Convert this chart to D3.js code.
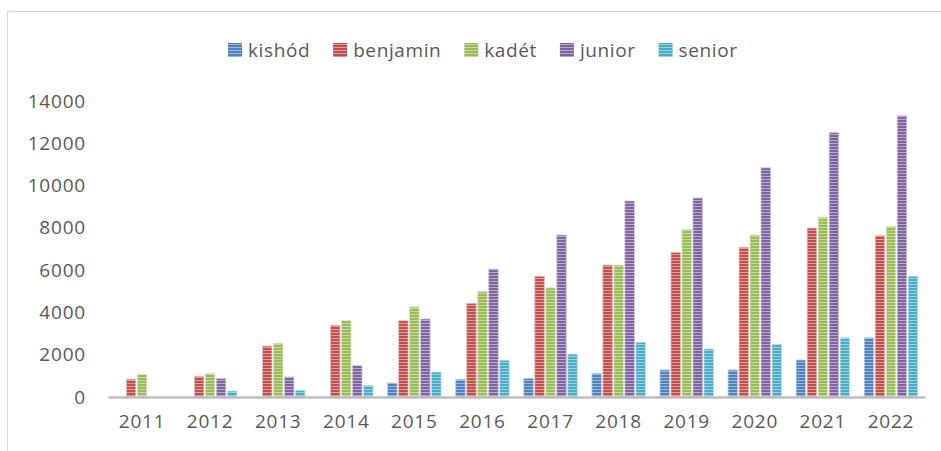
<!DOCTYPE html>
<html lang="hu">
<head>
<meta charset="utf-8">
<title>Versenyzők korosztályonként</title>
<script src="https://cdn.jsdelivr.net/npm/d3@7"></script>
<style>
  body { margin: 0; background: #fff; }
  svg text { font-family: "Open Sans", sans-serif; fill: #595959; }
</style>
</head>
<body>
<svg id="chart" width="941" height="451"></svg>
<script>
var years = ["2011", "2012", "2013", "2014", "2015", "2016", "2017", "2018", "2019", "2020", "2021", "2022"];
var seriesNames = ["kishód", "benjamin", "kadét", "junior", "senior"];
var kishod   = [0, 0, 0, 0, 660, 840, 880, 1120, 1280, 1280, 1750, 2800];
var benjamin = [840, 980, 2410, 3390, 3610, 4430, 5710, 6240, 6840, 7080, 7990, 7630];
var kadet    = [1070, 1100, 2540, 3610, 4260, 4980, 5160, 6240, 7930, 7660, 8510, 8060];
var junior   = [0, 870, 950, 1480, 3690, 6050, 7660, 9270, 9410, 10840, 12500, 13300];
var senior   = [0, 280, 320, 550, 1180, 1740, 2030, 2590, 2270, 2490, 2800, 5710];
var yTicks = [0, 2000, 4000, 6000, 8000, 10000, 12000, 14000];
var colors = ["#4f81bd", "#c0504d", "#9bbb59", "#8064a2", "#4bacc6"];

var values = [kishod, benjamin, kadet, junior, senior];
var rows = years.map(function(y, i) {
  return { year: y, vals: seriesNames.map(function(s, k) { return { key: s, k: k, v: values[k][i] }; }) };
});

var svg = d3.select("#chart");

// frame
svg.append("rect")
  .attr("x", 7.5).attr("y", 11.5)
  .attr("width", 1000).attr("height", 500)
  .attr("fill", "none").attr("stroke", "#d9d9d9").attr("stroke-width", 1.2);

// stripe patterns
var defs = svg.append("defs");
colors.forEach(function(c, k) {
  var p = defs.append("pattern")
    .attr("id", "stripe" + k)
    .attr("patternUnits", "userSpaceOnUse")
    .attr("width", 6).attr("height", 3);
  p.append("rect").attr("width", 6).attr("height", 3).attr("fill", c);
  p.append("rect").attr("y", 2).attr("width", 6).attr("height", 1)
    .attr("fill", d3.interpolateRgb(c, "#fff")(0.45));
});

var x = d3.scaleBand().domain(years).range([108, 925]).paddingInner(0.17).paddingOuter(0.085);
var xs = d3.scaleBand().domain(seriesNames).range([0, x.bandwidth()]).padding(0.14);
var y = d3.scaleLinear().domain([0, 14000]).range([397, 101]);

// y axis labels
var yAxis = svg.append("g")
  .attr("transform", "translate(86,0)")
  .call(d3.axisLeft(y).tickValues(yTicks).tickFormat(d3.format("d")).tickSize(0).tickPadding(0));
yAxis.select(".domain").remove();
yAxis.selectAll("text")
  .attr("font-size", 19).attr("letter-spacing", 0.8)
  .attr("font-family", "Open Sans").attr("fill", "#595959");

// bars
var groups = svg.append("g").selectAll("g")
  .data(rows).enter().append("g")
  .attr("transform", function(d) { return "translate(" + x(d.year) + ",0)"; });

groups.selectAll("rect")
  .data(function(d) { return d.vals.filter(function(e) { return e.v > 0; }); })
  .enter().append("rect")
  .attr("x", function(e) { return xs(e.key); })
  .attr("y", function(e) { return y(e.v); })
  .attr("width", xs.bandwidth())
  .attr("height", function(e) { return y(0) - y(e.v); })
  .attr("fill", function(e) { return "url(#stripe" + e.k + ")"; })
  .attr("stroke", function(e) { return d3.interpolateRgb(colors[e.k], "#fff")(0.6); })
  .attr("stroke-width", 0.8);

// x axis
var xAxis = svg.append("g")
  .attr("transform", "translate(0,397)")
  .call(d3.axisBottom(x).tickSize(0).tickPadding(18));
xAxis.select(".domain")
  .attr("stroke", "#bfbfbf").attr("stroke-width", 2.5);
xAxis.selectAll("text")
  .attr("font-size", 19).attr("letter-spacing", 0.8)
  .attr("font-family", "Open Sans").attr("fill", "#595959");

// legend
var legend = svg.append("g").attr("transform", "translate(228,0)");
var lx = 0;
seriesNames.forEach(function(s, k) {
  var item = legend.append("g").attr("transform", "translate(" + lx + ",0)");
  item.append("rect")
    .attr("x", 0).attr("y", 43).attr("width", 14).attr("height", 14)
    .attr("fill", "url(#stripe" + k + ")");
  var t = item.append("text")
    .attr("x", 20).attr("y", 57)
    .attr("font-size", 19).attr("letter-spacing", 0.6)
    .text(s);
  lx += 20 + t.node().getComputedTextLength() + 23;
});
</script>
</body>
</html>
